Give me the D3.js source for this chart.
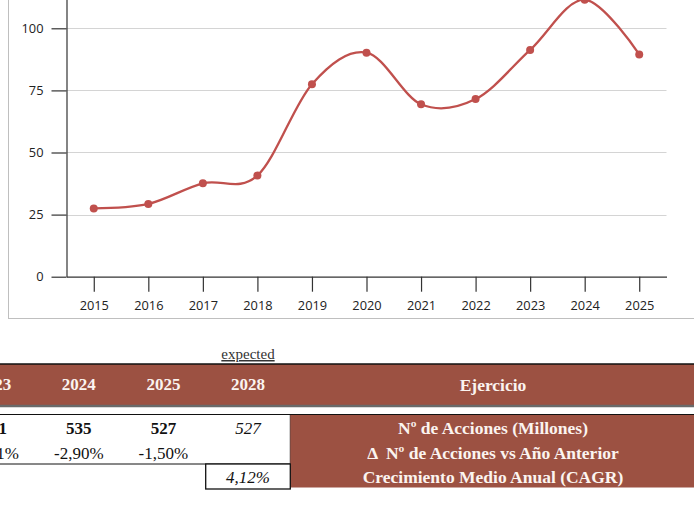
<!DOCTYPE html>
<html>
<head>
<meta charset="utf-8">
<script src="https://cdn.jsdelivr.net/npm/d3@7"></script>
<style>
  body { margin: 0; background: #fff; }
  svg { display: block; }
</style>
</head>
<body>
<div id="chart"></div>
<script>
// chart data
const years = ["2015", "2016", "2017", "2018", "2019", "2020", "2021", "2022", "2023", "2024", "2025"];
const acciones = [27.5, 29.3, 37.6, 40.7, 77.5, 90.2, 69.4, 71.5, 91.3, 111.5, 89.5];
const yTicks = [0, 25, 50, 75, 100];
const yMax = 125;

// table data
const tableYears = ["2023", "2024", "2025", "2028"];
const sharesRow = ["551", "535", "527", "527"];
const deltaRow = ["-1,61%", "-2,90%", "-1,50%", ""];
const cagrValue = "4,12%";
const expectedYear = "2028";
const headerLabel = "Ejercicio";
const rowLabels = [
  "Nº de Acciones (Millones)",
  "Δ  Nº de Acciones vs Año Anterior",
  "Crecimiento Medio Anual (CAGR)"
];

const W = 694, H = 511;
const brown = "#9c5142";
const red = "#c0504d";
const serif = "'Liberation Serif', 'Times New Roman', serif";
const sans = "'Open Sans', 'Liberation Sans', sans-serif";

const svg = d3.select("#chart").append("svg")
  .attr("width", W)
  .attr("height", H);

// ---- line chart (top part, cropped at the top like the picture) ----
const x = d3.scalePoint().domain(years).range([66.5, 666.5]).padding(0.5);
const y = d3.scaleLinear().domain([0, yMax]).range([276.7, -33.8]);

// chart frame
svg.append("rect")
  .attr("x", 8.5)
  .attr("y", -40)
  .attr("width", 720)
  .attr("height", 358.5)
  .attr("fill", "none")
  .attr("stroke", "#bfbfbf");

// gridlines
svg.append("g")
  .selectAll("line")
  .data(yTicks.filter((d) => d > 0))
  .join("line")
  .attr("x1", 66.5)
  .attr("x2", 666.5)
  .attr("y1", (d) => Math.round(y(d)) + 0.5)
  .attr("y2", (d) => Math.round(y(d)) + 0.5)
  .attr("stroke", "#d4d4d4");

const yAxis = svg.append("g")
  .attr("transform", "translate(66.5,0)")
  .call(d3.axisLeft(y).tickValues(yTicks).tickSize(15).tickSizeOuter(0).tickPadding(8));

const xAxis = svg.append("g")
  .attr("transform", `translate(0,${y(0)})`)
  .call(d3.axisBottom(x).tickSize(15).tickSizeOuter(0).tickPadding(9));

[yAxis, xAxis].forEach((g) => {
  g.selectAll("path, line").attr("stroke", "#333").attr("stroke-width", 1.2);
  g.selectAll("text")
    .style("font-family", sans)
    .style("font-size", "12.8px")
    .attr("fill", "#222");
});

const line = d3.line()
  .x((d, i) => x(years[i]))
  .y((d) => y(d))
  .curve(d3.curveCardinal.tension(0));

svg.append("path")
  .datum(acciones)
  .attr("d", line)
  .attr("fill", "none")
  .attr("stroke", red)
  .attr("stroke-width", 2.3);

svg.append("g")
  .selectAll("circle")
  .data(acciones)
  .join("circle")
  .attr("cx", (d, i) => x(years[i]))
  .attr("cy", (d) => y(d))
  .attr("r", 4)
  .attr("fill", red);

// ---- table (bottom part) ----
const col = d3.scaleBand().domain(tableYears).range([-48.1, 290.3]);
const rowY = [428, 453, 477];
const labelX = 493;

// "expected" marker above the forecast column
svg.append("text")
  .attr("x", col(expectedYear) + col.bandwidth() / 2)
  .attr("y", 359)
  .attr("text-anchor", "middle")
  .style("font-family", serif)
  .style("font-size", "15px")
  .style("text-decoration", "underline")
  .attr("fill", "#333")
  .text("expected");

// header band
svg.append("rect")
  .attr("x", 0).attr("y", 364)
  .attr("width", W).attr("height", 41)
  .attr("fill", brown);
svg.append("line")
  .attr("x1", 0).attr("x2", W)
  .attr("y1", 364).attr("y2", 364)
  .attr("stroke", "#111").attr("stroke-width", 1.5);
svg.append("line")
  .attr("x1", 0).attr("x2", W)
  .attr("y1", 406).attr("y2", 406)
  .attr("stroke", "#6a6a6a").attr("stroke-width", 2.5);

svg.append("g")
  .selectAll("text")
  .data(tableYears)
  .join("text")
  .attr("x", (d) => col(d) + col.bandwidth() / 2)
  .attr("y", 384.5)
  .attr("dy", "0.35em")
  .attr("text-anchor", "middle")
  .style("font-family", serif)
  .style("font-size", "17px")
  .style("font-weight", "bold")
  .attr("fill", "#fbf4f0")
  .text((d) => d);

svg.append("text")
  .attr("x", labelX)
  .attr("y", 384.5)
  .attr("dy", "0.35em")
  .attr("text-anchor", "middle")
  .style("font-family", serif)
  .style("font-size", "17.5px")
  .style("font-weight", "bold")
  .attr("fill", "#fbf4f0")
  .text(headerLabel);

// data box
svg.append("rect")
  .attr("x", -60).attr("y", 414.5)
  .attr("width", 350.3).attr("height", 49.5)
  .attr("fill", "#fff")
  .attr("stroke", "#111");

// label column
svg.append("rect")
  .attr("x", 290.3).attr("y", 414.5)
  .attr("width", 420).attr("height", 73)
  .attr("fill", brown);
svg.append("line")
  .attr("x1", 290).attr("x2", W)
  .attr("y1", 414.5).attr("y2", 414.5)
  .attr("stroke", "#111");

// CAGR box
svg.append("rect")
  .attr("x", col(expectedYear)).attr("y", 464)
  .attr("width", col.bandwidth()).attr("height", 25)
  .attr("fill", "#fff")
  .attr("stroke", "#111")
  .attr("stroke-width", 1.3);

const cells = svg.append("g")
  .style("font-family", serif)
  .style("font-size", "17px")
  .attr("text-anchor", "middle")
  .attr("fill", "#111");

cells.selectAll("text.shares")
  .data(sharesRow)
  .join("text")
  .attr("class", "shares")
  .attr("x", (d, i) => col(tableYears[i]) + col.bandwidth() / 2)
  .attr("y", rowY[0])
  .attr("dy", "0.35em")
  .style("font-weight", (d, i) => (tableYears[i] === expectedYear ? "normal" : "bold"))
  .style("font-style", (d, i) => (tableYears[i] === expectedYear ? "italic" : "normal"))
  .text((d) => d);

cells.selectAll("text.delta")
  .data(deltaRow)
  .join("text")
  .attr("class", "delta")
  .attr("x", (d, i) => col(tableYears[i]) + col.bandwidth() / 2)
  .attr("y", rowY[1])
  .attr("dy", "0.35em")
  .text((d) => d);

cells.append("text")
  .attr("x", col(expectedYear) + col.bandwidth() / 2)
  .attr("y", rowY[2])
  .attr("dy", "0.35em")
  .style("font-style", "italic")
  .text(cagrValue);

svg.append("g")
  .selectAll("text")
  .data(rowLabels)
  .join("text")
  .attr("x", labelX)
  .attr("y", (d, i) => rowY[i])
  .attr("dy", "0.35em")
  .attr("text-anchor", "middle")
  .style("font-family", serif)
  .style("font-size", "17.5px")
  .style("font-weight", "bold")
  .attr("fill", "#fbf4f0")
  .style("white-space", "pre")
  .text((d) => d);
</script>
</body>
</html>
